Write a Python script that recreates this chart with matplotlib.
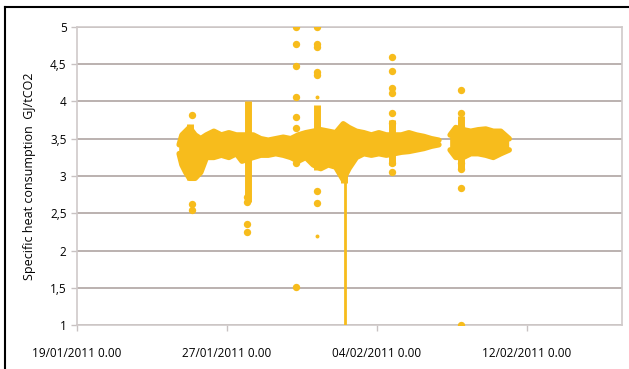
import numpy as np
import datetime as dt
import matplotlib
matplotlib.use("Agg")
from matplotlib import pyplot as plt
import matplotlib.dates as mdates
from matplotlib.lines import Line2D

# start of the time axis
t0 = dt.datetime(2011, 1, 19)

# main band: day offset from t0, lower and upper envelope (GJ/tCO2)
band_days = [5.45, 5.6, 5.8, 6.0, 6.3, 6.6, 6.9, 7.3, 7.7, 8.1, 8.5, 8.8, 9.4, 9.8,
             10.2, 10.6, 11.0, 11.4, 11.8, 12.2, 12.6, 13.0, 13.4, 13.8, 14.2, 14.5,
             14.9, 15.3, 15.7, 16.1, 16.5, 16.9, 17.3, 17.7, 18.1, 18.5, 18.9, 19.3,
             19.6,
             19.9, 20.2, 20.6, 21.0, 21.4, 21.8, 22.2, 22.6, 23.05]
band_low = [3.3, 3.15, 3.05, 2.97, 2.97, 3.05, 3.25, 3.25, 3.28, 3.25, 3.3, 3.2, 3.25, 3.28,
            3.28, 3.3, 3.28, 3.25, 3.2, 3.25, 3.15, 3.1, 3.15, 3.12, 2.95, 3.1,
            3.25, 3.3, 3.28, 3.3, 3.28, 3.3, 3.32, 3.33, 3.35, 3.37, 3.4, 3.42,
            np.nan,
            3.35, 3.25, 3.25, 3.3, 3.3, 3.28, 3.25, 3.3, 3.35]
band_high = [3.42, 3.55, 3.6, 3.65, 3.55, 3.5, 3.55, 3.6, 3.55, 3.58, 3.55, 3.55, 3.55, 3.5,
             3.48, 3.5, 3.52, 3.5, 3.55, 3.58, 3.6, 3.62, 3.6, 3.58, 3.7, 3.65,
             3.6, 3.58, 3.55, 3.58, 3.55, 3.55, 3.55, 3.58, 3.55, 3.53, 3.5, 3.48,
             np.nan,
             3.55, 3.65, 3.62, 3.6, 3.62, 3.63, 3.6, 3.6, 3.5]

# vertical spikes: day, from, to
spike_days = [6.05, 9.1, 12.8, 14.25, 16.8, 20.48]
spike_low = [2.95, 2.65, 3.08, 2.9, 3.15, 3.1]
spike_high = [3.7, 4.0, 3.95, 3.7, 3.75, 3.8]

# thin line going down to the axis
drop_day = 14.3
drop_low = 1.0
drop_high = 3.0

# isolated readings
out_days = [6.13, 6.13, 6.13,
            9.07, 9.07, 9.07, 9.07,
            11.68, 11.68, 11.68, 11.68, 11.68, 11.68, 11.68, 11.68,
            12.8, 12.8, 12.8, 12.8, 12.8, 12.8, 12.8,
            16.8, 16.8, 16.8, 16.8, 16.8, 16.8, 16.8, 16.8,
            20.48, 20.48, 20.48, 20.48, 20.48, 20.48, 20.48]
out_vals = [3.82, 2.62, 2.55,
            2.35, 2.25, 2.65, 2.72,
            5.0, 4.77, 4.47, 4.06, 3.79, 3.65, 3.17, 1.51,
            5.0, 4.77, 4.73, 4.4, 4.36, 2.8, 2.64,
            4.6, 4.41, 4.18, 4.11, 3.85, 3.71, 3.17, 3.05,
            4.16, 3.85, 3.66, 3.17, 3.1, 2.84, 1.0]
small_days = [12.8, 12.8]
small_vals = [4.06, 2.2]

yticks = [1, 1.5, 2, 2.5, 3, 3.5, 4, 4.5, 5]
ytick_labels = ["1", "1,5", "2", "2,5", "3", "3,5", "4", "4,5", "5"]
xtick_days = [0, 8, 16, 24]

col = "#F7BC1C"
to_dates = lambda d: [t0 + dt.timedelta(days=v) for v in d]

plt.rcParams['font.family'] = ['Open Sans', 'DejaVu Sans']
fig = plt.figure(figsize=(6.29, 3.69), dpi=100)
ax = fig.add_axes([0.1224, 0.119, 0.8666, 0.808])

bd = to_dates(band_days)
lo = np.array(band_low, dtype=float)
hi = np.array(band_high, dtype=float)
ax.fill_between(bd, lo, hi, color=col, lw=0, zorder=3)
ax.plot(bd, lo, color=col, lw=4, solid_capstyle='round', zorder=3)
ax.plot(bd, hi, color=col, lw=4, solid_capstyle='round', zorder=3)

ax.vlines(to_dates(spike_days), spike_low, spike_high, color=col, lw=5, zorder=3)
ax.vlines(to_dates([drop_day]), [drop_low], [drop_high], color=col, lw=2, zorder=3)
ax.scatter(to_dates(out_days), out_vals, s=28, color=col, lw=0, zorder=4)
ax.scatter(to_dates(small_days), small_vals, s=8, color=col, lw=0, zorder=4)

ax.set_ylim(1, 5)
ax.set_xlim(t0, t0 + dt.timedelta(days=29.07))
ax.set_yticks(yticks)
ax.set_yticklabels(ytick_labels)
ax.set_xticks(to_dates(xtick_days))
ax.xaxis.set_major_formatter(mdates.DateFormatter("%d/%m/%Y 0.00"))
ax.grid(axis='y', color='#A89C9A', lw=1.1, zorder=1)
ax.set_axisbelow(True)
for s in ax.spines.values():
    s.set_color('#D0CACA')
    s.set_linewidth(1.2)
ax.tick_params(axis='both', colors='#C8C2C2', labelcolor='black', labelsize=8.5, length=4, width=1)
ax.tick_params(axis='x', pad=12)
ax.set_ylabel("Specific heat consumption  GJ/tCO2", fontsize=9, labelpad=10)

# frame around the chart (left and top edges visible)
fig.add_artist(Line2D([0.008, 0.008], [0.0, 0.982], color='black', lw=1.5, transform=fig.transFigure))
fig.add_artist(Line2D([0.008, 1.0], [0.982, 0.982], color='black', lw=1.5, transform=fig.transFigure))

fig.savefig("out.png", dpi=100)
